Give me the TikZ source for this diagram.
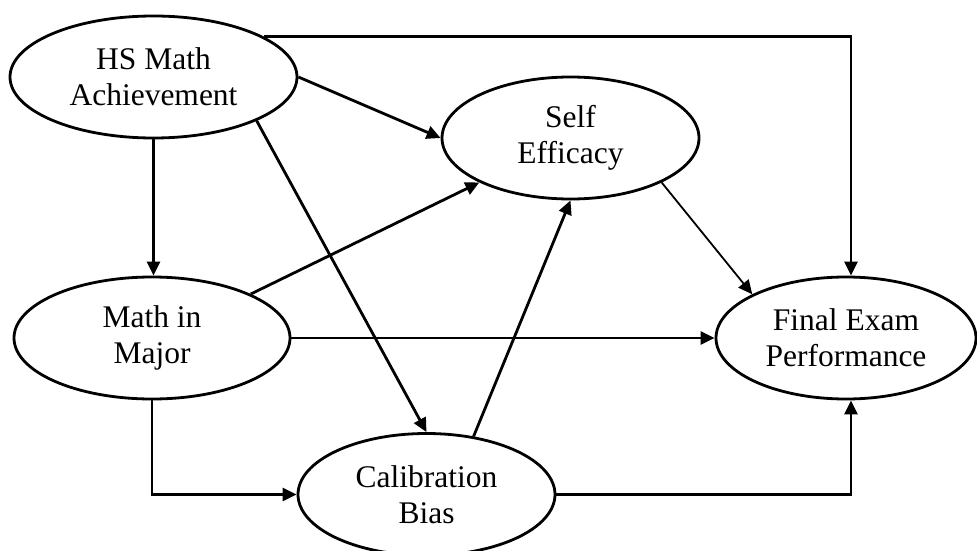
\documentclass[tikz,border=0pt]{standalone}
\usepackage{fontspec}
\setmainfont{Liberation Serif}
\usetikzlibrary{arrows.meta,shapes.geometric}
\begin{document}
\begin{tikzpicture}[x=1pt,y=-1pt,
  var/.style={ellipse,draw,line width=2.8pt,inner sep=0pt,align=center,
    font=\fontsize{31.5}{36}\selectfont},
  link/.style={line width=2.8pt,-{Triangle[length=14pt,width=13pt]}},
  thinlink/.style={line width=1.8pt,-{Triangle[length=14pt,width=13pt]}}]
\useasboundingbox (0,0) rectangle (977,551);
\node[var,minimum width=287pt,minimum height=122pt] (hs) at (153.5,77) {HS Math\\Achievement};
\node[var,minimum width=257pt,minimum height=122pt] (self) at (570.5,138) {Self\\Efficacy};
\node[var,minimum width=276pt,minimum height=122pt] (math) at (152,338) {Math in\\Major};
\node[var,minimum width=257pt,minimum height=122pt] (calib) at (426.5,494.5) {Calibration\\Bias};
\node[var,minimum width=260pt,minimum height=122pt] (final) at (846,338) {Final Exam\\Performance};
\draw[link] (hs.20.3) -| ([xshift=5pt]final.north);
\draw[link] (hs.east) -- (self.west);
\draw[link] (hs.south) -- (hs.south |- math.north);
\draw[link] (hs.-23) -- (calib.north);
\draw[link] (math.24) -- (self.206);
\draw[link] (math.east) -- (final.west);
\draw[link] (math.south) |- (calib.west);
\draw[link] (calib.51) -- (self.south);
\draw[thinlink] (self.-26) -- (final.155);
\draw[link] (calib.east) -| ([xshift=5pt]final.south);
\end{tikzpicture}
\end{document}
